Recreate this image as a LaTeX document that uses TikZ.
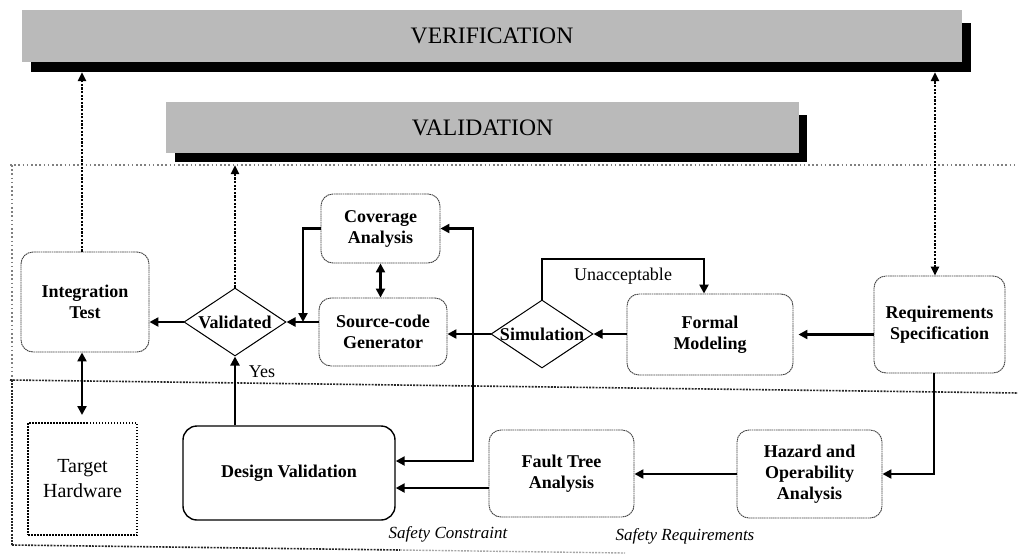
\documentclass[tikz,border=0pt]{standalone}
\usepackage{fontspec}
\setmainfont{Liberation Serif}
\usetikzlibrary{shapes.geometric,arrows.meta}
\begin{document}
\begin{tikzpicture}[x=1pt,y=-1pt,
  box/.style={draw=black!75, line width=0.9pt, dash pattern=on 1.6pt off 0.6pt, rounded corners=12pt, inner sep=0pt, align=center, font=\fontsize{18}{21}\selectfont\bfseries},
  dvbox/.style={draw=black, line width=1.4pt, rounded corners=14pt, inner sep=0pt, align=center, font=\fontsize{18}{21}\selectfont\bfseries},
  hwbox/.style={draw=black, line width=2.2pt, dash pattern=on 1.5pt off 1.5pt, inner sep=0pt, align=center, font=\fontsize{20}{25}\selectfont},
  dia/.style={draw=black, line width=1pt, diamond, inner sep=0pt, minimum width=102pt, minimum height=68pt},
  dlabel/.style={font=\fontsize{18}{21}\selectfont\bfseries, inner sep=0pt},
  plain/.style={font=\fontsize{18}{21}\selectfont, inner sep=0pt},
  note/.style={font=\fontsize{17}{20}\selectfont\itshape, inner sep=0pt},
  banner/.style={fill=black!27, inner sep=0pt, font=\fontsize{23.6}{26}\selectfont},
  bshadow/.style={fill=black, inner sep=0pt},
  arr/.style={line width=2.4pt, -{Triangle[length=9pt,width=9pt]}},
  arrb/.style={line width=2.4pt, {Triangle[length=9pt,width=9pt]}-{Triangle[length=9pt,width=9pt]}},
  darr/.style={line width=2.4pt, dash pattern=on 2.2pt off 1.4pt, -{Triangle[length=9pt,width=8pt]}},
  darrb/.style={line width=2.4pt, dash pattern=on 2.2pt off 1.4pt, {Triangle[length=9pt,width=8pt]}-{Triangle[length=9pt,width=8pt]}},
  lightdot/.style={draw=black!50, line width=1.1pt, dash pattern=on 1.6pt off 2.6pt},
  darkdot/.style={draw=black!85, line width=1.6pt, dash pattern=on 2pt off 1.2pt},
  fadedot/.style={draw=black!35, line width=1.4pt, dash pattern=on 2pt off 1.2pt}
]
\useasboundingbox (0,0) rectangle (1018,555);

% banners
\node[bshadow, minimum width=940pt, minimum height=49pt] (verifsh) at (501,47.5) {};
\node[banner, minimum width=940pt, minimum height=52pt] (verif) at (492,36) {VERIFICATION};
\node[bshadow, minimum width=632pt, minimum height=47pt] (valsh) at (491,138.5) {};
\node[banner, minimum width=633pt, minimum height=51pt] (valid) at (482.5,127.5) {VALIDATION};

% region borders
\draw[lightdot] (10,165) -- (1018,165);
\draw[lightdot] (12,165) -- (12,380);
\draw[darkdot] (12,380) -- (12,545);
\draw[darkdot] (10,380) -- (1018,393);
\draw[darkdot] (12,545) -- (400,550);
\draw[fadedot] (400,550) -- (625,553);

% nodes
\node[box, minimum width=128pt, minimum height=100pt] (it) at (85,302) {Integration\\Test};
\node[dia] (val) at (235,322) {};
\node[dlabel] (valt) at (235,322) {Validated};
\node[box, minimum width=119pt, minimum height=69pt] (cov) at (380.5,228.5) {Coverage\\Analysis};
\node[box, minimum width=128pt, minimum height=68pt] (sc) at (383,332) {Source-code\\Generator};
\node[dia] (sim) at (542,334) {};
\node[dlabel] (simt) at (542,334) {Simulation};
\node[box, minimum width=166pt, minimum height=81pt] (fm) at (710,334.5) {Formal\\Modeling};
\node[box, minimum width=131pt, minimum height=97pt] (rq) at (939.5,324.5) {Requirements\\Specification};
\node[dvbox, minimum width=212pt, minimum height=94pt] (dv) at (289,473) {Design Validation};
\node[box, minimum width=145pt, minimum height=87pt] (fta) at (561.5,473.5) {Fault Tree\\Analysis};
\node[box, minimum width=145pt, minimum height=88pt] (haz) at (809.5,474) {Hazard and\\Operability\\Analysis};
\node[hwbox, minimum width=109pt, minimum height=112pt] (th) at (82.5,479) {Target\\Hardware};

% labels
\node[plain] (yes) at (262,372) {Yes};
\node[plain] (unacc) at (623,276) {Unacceptable};
\node[note] (sconst) at (448,534) {Safety Constraint};
\node[note] (sreq) at (685,536) {Safety Requirements};

% dotted connectors to banners
\draw[darr] (82,0 |- it.north) -- (82,0 |- verifsh.south);
\draw[darr] (val.north) -- (val.north |- 0,165);
\draw[darrb] (935,0 |- rq.north) -- (935,0 |- verifsh.south);

% solid connectors
\draw[arr] (val.west) -- (it.east |- val.west);
\draw[arrb] (82,0 |- it.south) -- (82,0 |- 0,415);
\draw[arr] (sc.west |- val.east) -- (val.east);
\draw[arr] (cov.west) -| (303,0 |- val.east);
\draw[arrb] (cov.south) -- (cov.south |- sc.north);
\draw[arr] (sim.west) -- (sim.west -| sc.east);
\draw[arr] (fm.west |- sim.east) -- (sim.east);
\draw[arr, shorten >=5pt] (rq.west |- fm.east) -- (fm.east);
\draw[arr] (sim.north) |- (704,0 |- 0,259) -- (704,0 |- fm.north);
\draw[arrb] (dv.east |- 0,461) -| (473,0 |- cov.east) -- (cov.east);
\draw[arr] (934,0 |- rq.south) |- (haz.east);
\draw[arr] (haz.west) -- (fta.east |- haz.west);
\draw[arr] (fta.west |- 0,488) -- (dv.east |- 0,488);
\draw[arr] (val.south |- dv.north) -- (val.south);
\end{tikzpicture}
\end{document}
